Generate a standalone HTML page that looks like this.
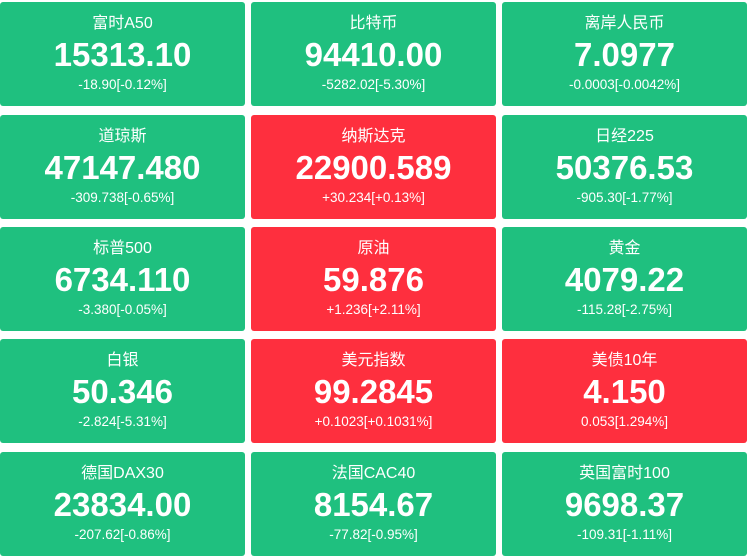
<!DOCTYPE html>
<html><head><meta charset="utf-8"><style>
body{margin:0;width:749px;height:558px;background:#fff;position:relative;overflow:hidden;font-family:"Liberation Sans","Noto Sans CJK SC",sans-serif;color:#fff}
.t{position:absolute;width:245px;height:104px;border-radius:3px;background:#1fc07f;text-align:center}
.r{background:#fe2f3e}
.n{position:absolute;top:12px;left:0;right:0;font-size:16px;line-height:20px}
.v{position:absolute;top:33px;left:0;right:0;font-size:33px;font-weight:bold;line-height:40px}
.c{position:absolute;top:74px;left:0;right:0;font-size:13.5px;line-height:18px}
</style></head><body>
<div class="t" style="left:0;top:2px"><div class="n">富时A50</div><div class="v">15313.10</div><div class="c">-18.90[-0.12%]</div></div>
<div class="t" style="left:251px;top:2px"><div class="n">比特币</div><div class="v">94410.00</div><div class="c">-5282.02[-5.30%]</div></div>
<div class="t" style="left:502px;top:2px"><div class="n">离岸人民币</div><div class="v">7.0977</div><div class="c">-0.0003[-0.0042%]</div></div>
<div class="t" style="left:0;top:115px"><div class="n">道琼斯</div><div class="v">47147.480</div><div class="c">-309.738[-0.65%]</div></div>
<div class="t r" style="left:251px;top:115px"><div class="n">纳斯达克</div><div class="v">22900.589</div><div class="c">+30.234[+0.13%]</div></div>
<div class="t" style="left:502px;top:115px"><div class="n">日经225</div><div class="v">50376.53</div><div class="c">-905.30[-1.77%]</div></div>
<div class="t" style="left:0;top:227px"><div class="n">标普500</div><div class="v">6734.110</div><div class="c">-3.380[-0.05%]</div></div>
<div class="t r" style="left:251px;top:227px"><div class="n">原油</div><div class="v">59.876</div><div class="c">+1.236[+2.11%]</div></div>
<div class="t" style="left:502px;top:227px"><div class="n">黄金</div><div class="v">4079.22</div><div class="c">-115.28[-2.75%]</div></div>
<div class="t" style="left:0;top:339px"><div class="n">白银</div><div class="v">50.346</div><div class="c">-2.824[-5.31%]</div></div>
<div class="t r" style="left:251px;top:339px"><div class="n">美元指数</div><div class="v">99.2845</div><div class="c">+0.1023[+0.1031%]</div></div>
<div class="t r" style="left:502px;top:339px"><div class="n">美债10年</div><div class="v">4.150</div><div class="c">0.053[1.294%]</div></div>
<div class="t" style="left:0;top:452px"><div class="n">德国DAX30</div><div class="v">23834.00</div><div class="c">-207.62[-0.86%]</div></div>
<div class="t" style="left:251px;top:452px"><div class="n">法国CAC40</div><div class="v">8154.67</div><div class="c">-77.82[-0.95%]</div></div>
<div class="t" style="left:502px;top:452px"><div class="n">英国富时100</div><div class="v">9698.37</div><div class="c">-109.31[-1.11%]</div></div>
</body></html>
